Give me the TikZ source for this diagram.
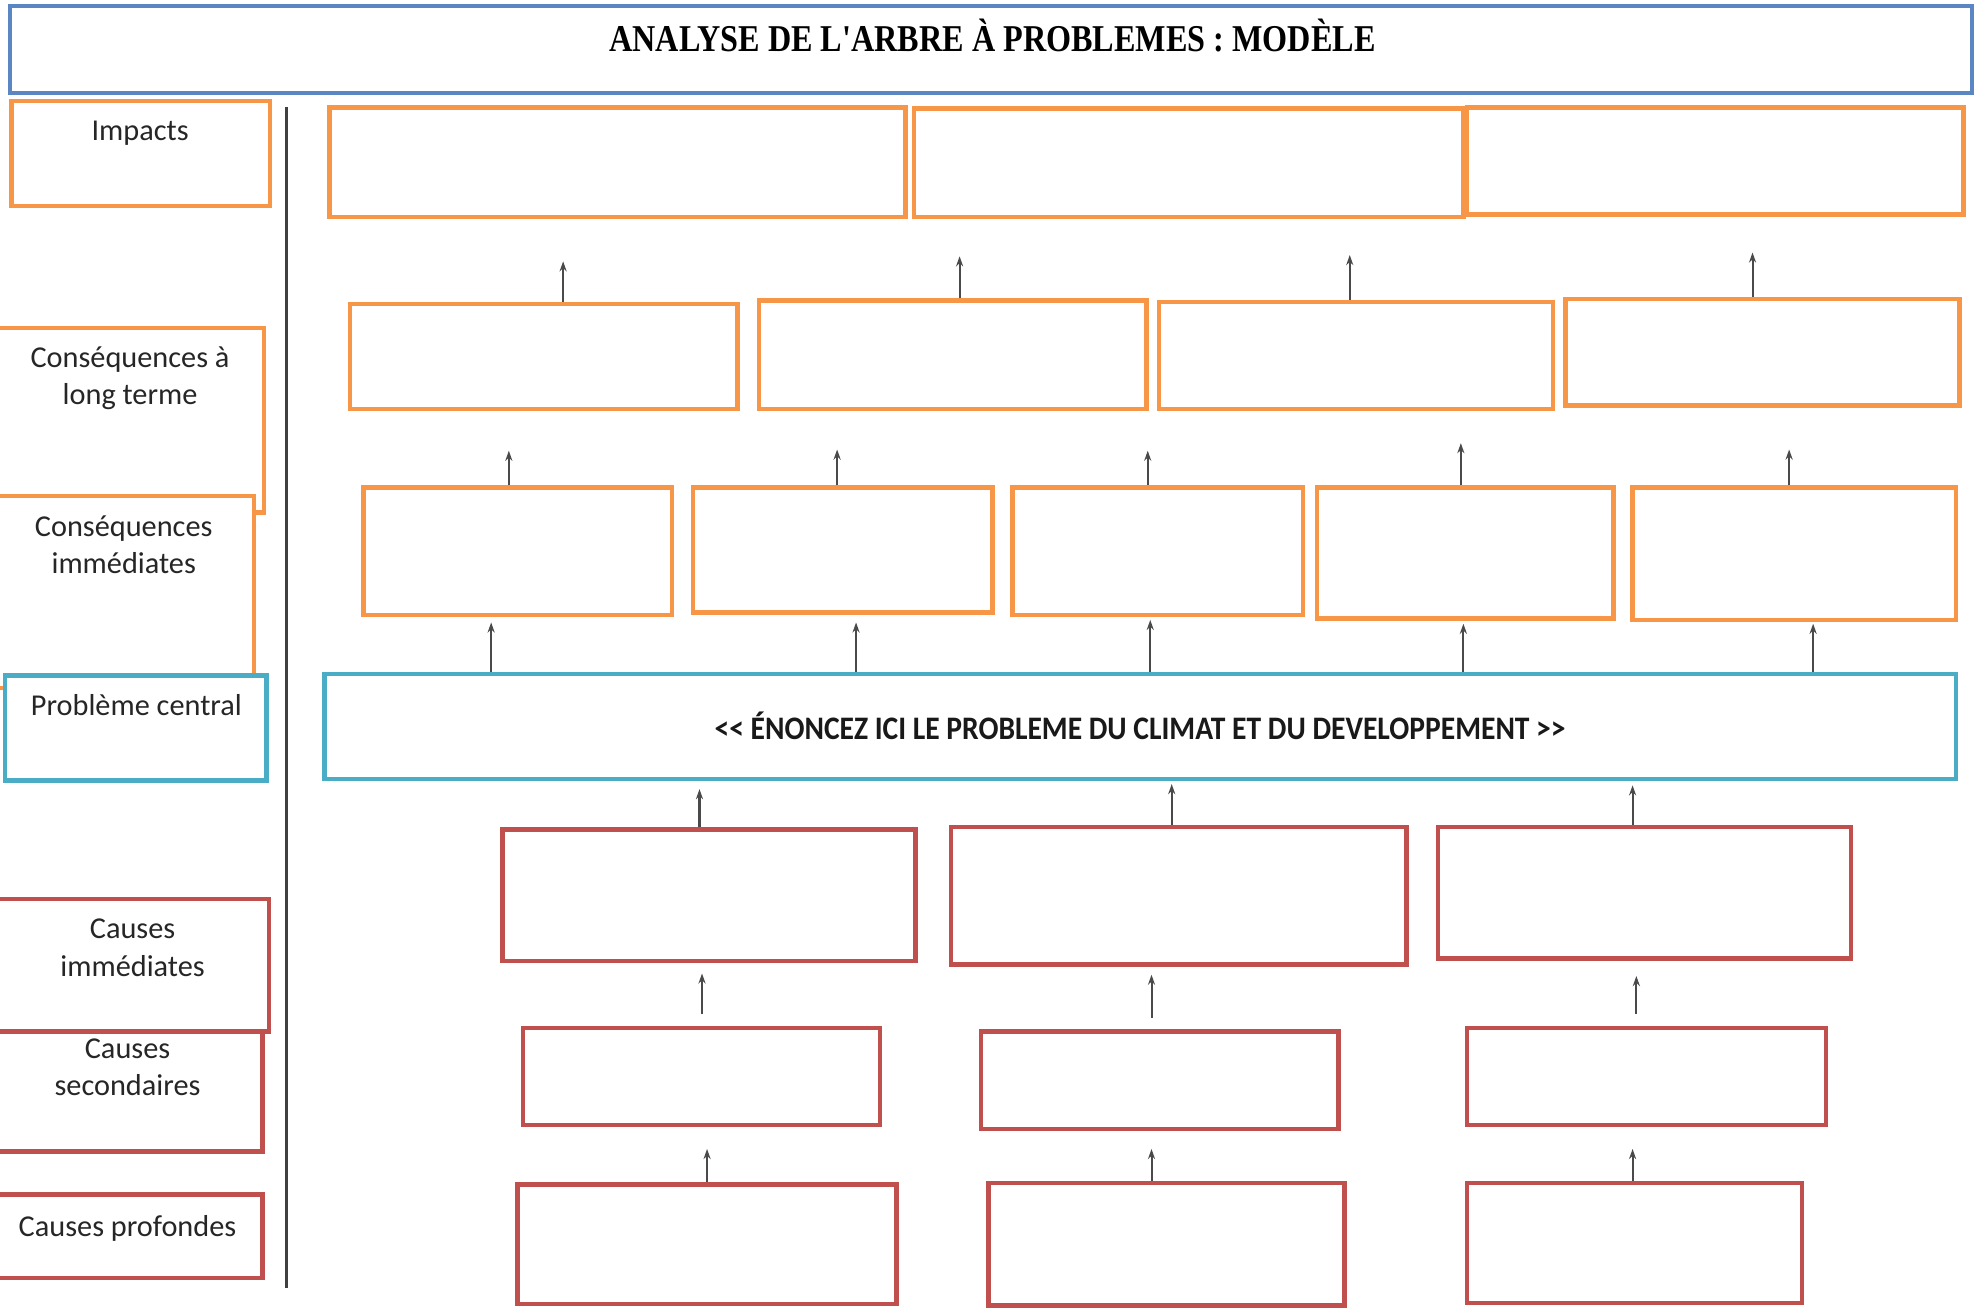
\documentclass[tikz,border=0pt]{standalone}
\usepackage{fontspec}
\setmainfont{Carlito}
\newfontfamily\titlefont[FakeStretch=0.85]{Liberation Serif}
\newfontfamily\centralfont[FakeStretch=0.9]{Carlito}
\usetikzlibrary{fit,arrows.meta}
\definecolor{tblue}{HTML}{5A86C3}
\definecolor{torange}{HTML}{F79646}
\definecolor{tcyan}{HTML}{4BACC6}
\definecolor{tred}{HTML}{C0504D}
\definecolor{tgray}{HTML}{4A4A4A}
\begin{document}
\begin{tikzpicture}[x=0.5pt,y=-0.5pt,
  bx/.style={line width=1.75pt, fill=white, inner sep=0pt},
  obox/.style={bx, draw=torange},
  cbox/.style={bx, draw=tcyan},
  rbox/.style={bx, draw=tred},
  tbox/.style={bx, draw=tblue, line width=1.6pt},
  arr/.style={draw=tgray, line width=0.8pt, -{Stealth[length=4pt,width=2.8pt]}},
  lbl/.style={font=\fontsize{12}{14}\selectfont, inner sep=0pt, anchor=base, text=black!85}
]
\useasboundingbox (0,0) rectangle (1565,1036);

% title
\node[tbox, fit={(8,5) (1562,74)}] (title) {};
\node[anchor=base, inner sep=0pt, font=\titlefont\bfseries\fontsize{15}{18}\selectfont] (titletext) at (786,41) {ANALYSE DE L'ARBRE À PROBLEMES : MODÈLE};

% separator
\coordinate (sepTop) at (227,85);
\coordinate (sepBot) at (227,1020);
\draw[line width=1pt, draw=black!75] (sepTop) -- (sepBot);

% left labels
\node[obox, fit={(9,80) (214,163)}] (Limp) {};
\node[lbl] (Limpt) at (111,111) {Impacts};
\node[obox, fit={(-3,260) (209,406)}] (Llong) {};
\node[lbl] (Llongt1) at (103,291) {Conséquences à};
\node[lbl] (Llongt2) at (103,320) {long terme};
\node[obox, fit={(-3,393) (201,545)}] (Limm) {};
\node[lbl] (Limmt1) at (98,425) {Conséquences};
\node[lbl] (Limmt2) at (98,454) {immédiates};
\node[cbox, fit={(4,535) (211,618)}] (Lcen) {};
\node[lbl] (Lcent) at (108,567) {Problème central};
\node[rbox, fit={(-3,790) (208,912)}] (Lsec) {};
\node[rbox, fit={(-3,712) (213,817)}] (Lcim) {};
\node[lbl] (Lcimt1) at (105,743) {Causes};
\node[lbl] (Lcimt2) at (105,773) {immédiates};
\node[lbl] (Lsect1) at (101,838) {Causes};
\node[lbl] (Lsect2) at (101,868) {secondaires};
\node[rbox, fit={(-3,946) (208,1012)}] (Lprof) {};
\node[lbl] (Lproft) at (101,979) {Causes profondes};

% impacts row
\node[obox, fit={(261,85) (717,172)}] (i1) {};
\node[obox, fit={(724,86) (1159,172)}] (i2) {};
\node[obox, fit={(1162,85) (1555,170)}] (i3) {};

% long-term consequences
\node[obox, fit={(277,241) (584,324)}] (l1) {};
\node[obox, fit={(601,238) (908,324)}] (l2) {};
\node[obox, fit={(918,239) (1230,324)}] (l3) {};
\node[obox, fit={(1240,237) (1552,321)}] (l4) {};

% immediate consequences
\node[obox, fit={(288,386) (532,487)}] (m1) {};
\node[obox, fit={(549,386) (786,485)}] (m2) {};
\node[obox, fit={(802,386) (1032,487)}] (m3) {};
\node[obox, fit={(1043,386) (1278,490)}] (m4) {};
\node[obox, fit={(1293,386) (1549,491)}] (m5) {};

% central problem
\node[cbox, fit={(257,534) (1549,617)}] (cp) {};
\node[anchor=base, inner sep=0pt, font=\centralfont\bfseries\fontsize{13}{16}\selectfont, text=black!90] (cpt) at (903,586) {{<}{<} ÉNONCEZ ICI LE PROBLEME DU CLIMAT ET DU DEVELOPPEMENT {>}{>}};

% immediate causes
\node[rbox, fit={(398,657) (725,761)}] (c1) {};
\node[rbox, fit={(753,655) (1114,764)}] (c2) {};
\node[rbox, fit={(1139,655) (1466,759)}] (c3) {};

% secondary causes
\node[rbox, fit={(414,814) (697,891)}] (s1) {};
\node[rbox, fit={(777,817) (1060,894)}] (s2) {};
\node[rbox, fit={(1162,814) (1446,891)}] (s3) {};

% deep causes
\node[rbox, fit={(410,938) (710,1033)}] (d1) {};
\node[rbox, fit={(783,937) (1065,1034)}] (d2) {};
\node[rbox, fit={(1162,937) (1427,1032)}] (d3) {};

% arrows: long-term -> impacts
\coordinate (al1) at (446,207);
\coordinate (al2) at (760,203);
\coordinate (al3) at (1069,202);
\coordinate (al4) at (1388,200);
\draw[arr] (al1 |- l1.north) -- (al1);
\draw[arr] (al2 |- l2.north) -- (al2);
\draw[arr] (al3 |- l3.north) -- (al3);
\draw[arr] (al4 |- l4.north) -- (al4);

% arrows: immediate -> long-term
\coordinate (am1) at (403,357);
\coordinate (am2) at (663,356);
\coordinate (am3) at (909,357);
\coordinate (am4) at (1157,351);
\coordinate (am5) at (1417,356);
\draw[arr] (am1 |- m1.north) -- (am1);
\draw[arr] (am2 |- m2.north) -- (am2);
\draw[arr] (am3 |- m3.north) -- (am3);
\draw[arr] (am4 |- m4.north) -- (am4);
\draw[arr] (am5 |- m5.north) -- (am5);

% arrows: central -> immediate consequences
\coordinate (ac1) at (389,493);
\coordinate (ac2) at (678,493);
\coordinate (ac3) at (911,491);
\coordinate (ac4) at (1159,494);
\coordinate (ac5) at (1436,494);
\draw[arr] (ac1 |- cp.north) -- (ac1);
\draw[arr] (ac2 |- cp.north) -- (ac2);
\draw[arr] (ac3 |- cp.north) -- (ac3);
\draw[arr] (ac4 |- cp.north) -- (ac4);
\draw[arr] (ac5 |- cp.north) -- (ac5);

% arrows: immediate causes -> central
\coordinate (ak1) at (554,625);
\coordinate (ak2) at (928,621);
\coordinate (ak3) at (1293,622);
\draw[arr] (ak1 |- c1.north) -- (ak1);
\draw[arr] (ak2 |- c2.north) -- (ak2);
\draw[arr] (ak3 |- c3.north) -- (ak3);

% arrows: secondary -> immediate causes
\coordinate (as1) at (556,771);
\coordinate (as2) at (912,772);
\coordinate (as3) at (1296,773);
\draw[arr] ([yshift=4.5pt]as1 |- s1.north) -- (as1);
\draw[arr] ([yshift=4.5pt]as2 |- s2.north) -- (as2);
\draw[arr] ([yshift=4.5pt]as3 |- s3.north) -- (as3);

% arrows: deep -> secondary
\coordinate (ad1) at (560,910);
\coordinate (ad2) at (912,910);
\coordinate (ad3) at (1293,910);
\draw[arr] (ad1 |- d1.north) -- (ad1);
\draw[arr] (ad2 |- d2.north) -- (ad2);
\draw[arr] (ad3 |- d3.north) -- (ad3);
\end{tikzpicture}
\end{document}
